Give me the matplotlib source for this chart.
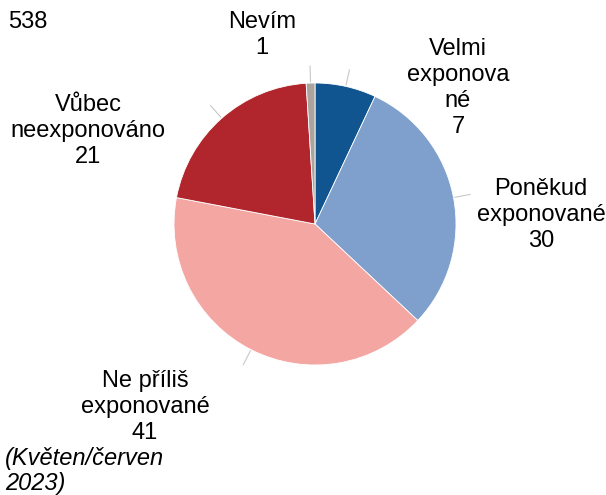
import numpy as np
import matplotlib.pyplot as plt

# --- data ---
labels = ["Velmi\nexponova\nné", "Poněkud\nexponované", "Ne příliš\nexponované",
          "Vůbec\nneexponováno", "Nevím"]
values = [7, 30, 41, 21, 1]
colors = ["#105590", "#7fa0cc", "#f4a6a3", "#b0262c", "#aba49e"]
base_n = "538"
note = "(Květen/červen\n2023)"

W, H = 606, 495
fig = plt.figure(figsize=(W / 100, H / 100), dpi=100)
ax = fig.add_axes([0, 0, 1, 1])
ax.set_xlim(0, W)
ax.set_ylim(0, H)
ax.set_aspect("equal")
ax.axis("off")

def py(y):
    # pixel row from top -> data y
    return H - y

cx, cy, r = 315, py(224), 141
wedges, _ = ax.pie(values, colors=colors, startangle=90, counterclock=False,
                   center=(cx, cy), radius=r,
                   wedgeprops=dict(edgecolor="white", linewidth=0.6))
ax.set_xlim(0, W)
ax.set_ylim(0, H)

font = dict(family=["Liberation Sans", "DejaVu Sans"], fontsize=17, color="black")

# label positions (centre of text block) in pixels
label_pos = [(458, 88), (541, 215), (145, 407), (88, 131), (262, 35)]
for w, lab, v, (lx, ly) in zip(wedges, labels, values, label_pos):
    ax.text(lx, py(ly), f"{lab}\n{v}", ha="center", va="center",
            linespacing=1.22, **font)
    ang = np.deg2rad((w.theta1 + w.theta2) / 2)
    x0, y0 = cx + r * 1.01 * np.cos(ang), cy + r * 1.01 * np.sin(ang)
    x1, y1 = cx + r * 1.12 * np.cos(ang), cy + r * 1.12 * np.sin(ang)
    ax.plot([x0, x1], [y0, y1], color="#c8c8c8", lw=0.8)

ax.text(8, py(22), base_n, ha="left", va="center", **font)
ax.text(5, py(471), note, ha="left", va="center", style="italic",
        linespacing=1.15, **font)

fig.savefig("out.png", dpi=100)
